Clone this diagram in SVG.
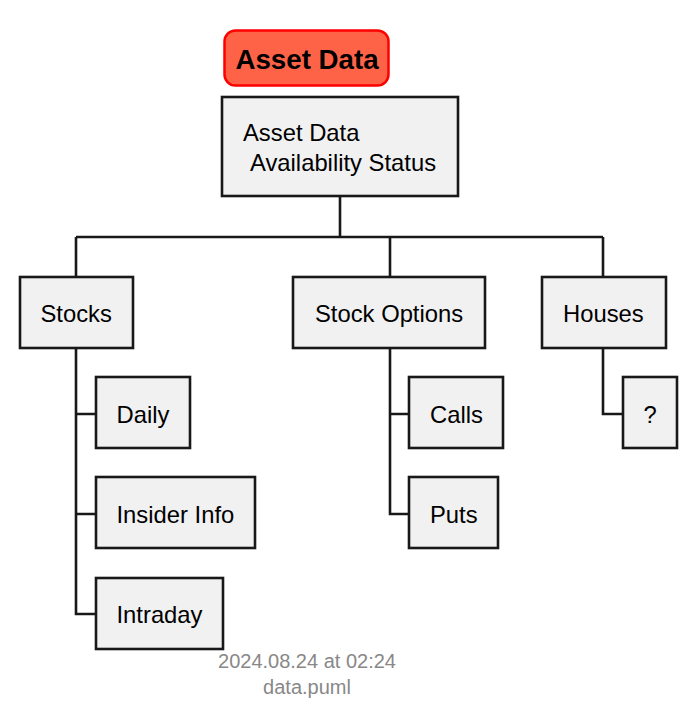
<svg xmlns="http://www.w3.org/2000/svg" width="696" height="722" viewBox="0 0 696 722">
<style>
.box{fill:#F1F1F1;stroke:#181818;stroke-width:2.6}
.t{font-family:"Liberation Sans",Arial,sans-serif;font-size:23.8px;fill:#000}
.ln{fill:none;stroke:#181818;stroke-width:2.6}
.foot{font-family:"Liberation Sans",Arial,sans-serif;font-size:20px;fill:#888888;text-anchor:middle}
</style>
<rect width="696" height="722" fill="#FFFFFF"/>
<g id="title">
<rect x="224.5" y="30.5" width="164" height="55" rx="11" fill="#FF6347" stroke="#FF0000" stroke-width="2.5"/>
<text x="307" y="68.5" font-family="Liberation Sans,Arial,sans-serif" font-size="27.7" font-weight="bold" text-anchor="middle">Asset Data</text>
</g>
<g id="connectors">
<path class="ln" d="M340 196V237M76 237H603M76 237V277M390 237V277M603 237V277"/>
<path class="ln" d="M76 348V614H96M76 414H96M76 514H96"/>
<path class="ln" d="M390 348V514H409M390 414H409"/>
<path class="ln" d="M603 348V414H623"/>
</g>
<g id="root">
<rect class="box" x="222" y="97" width="236" height="99"/>
<text class="t" x="243" y="141">Asset Data</text>
<text class="t" x="250" y="171">Availability Status</text>
</g>
<g id="stocks">
<rect class="box" x="20" y="277" width="113" height="71"/>
<text class="t" x="40.5" y="322">Stocks</text>
</g>
<g id="stockoptions">
<rect class="box" x="293" y="277" width="192" height="71"/>
<text class="t" x="315" y="322">Stock Options</text>
</g>
<g id="houses">
<rect class="box" x="542" y="277" width="124" height="71"/>
<text class="t" x="563" y="322">Houses</text>
</g>
<g id="daily">
<rect class="box" x="96" y="377" width="94" height="71"/>
<text class="t" x="116.5" y="423">Daily</text>
</g>
<g id="insider">
<rect class="box" x="96" y="477" width="159" height="71"/>
<text class="t" x="116.5" y="523">Insider Info</text>
</g>
<g id="intraday">
<rect class="box" x="96" y="578" width="127" height="71"/>
<text class="t" x="116.5" y="623">Intraday</text>
</g>
<g id="calls">
<rect class="box" x="409" y="377" width="94" height="71"/>
<text class="t" x="430" y="423">Calls</text>
</g>
<g id="puts">
<rect class="box" x="409" y="477" width="89" height="71"/>
<text class="t" x="430" y="523">Puts</text>
</g>
<g id="unknown">
<rect class="box" x="623" y="377" width="54" height="71"/>
<text class="t" x="643.5" y="423">?</text>
</g>
<g id="footer">
<text class="foot" x="307" y="668">2024.08.24 at 02:24</text>
<text class="foot" x="307" y="694">data.puml</text>
</g>
</svg>
